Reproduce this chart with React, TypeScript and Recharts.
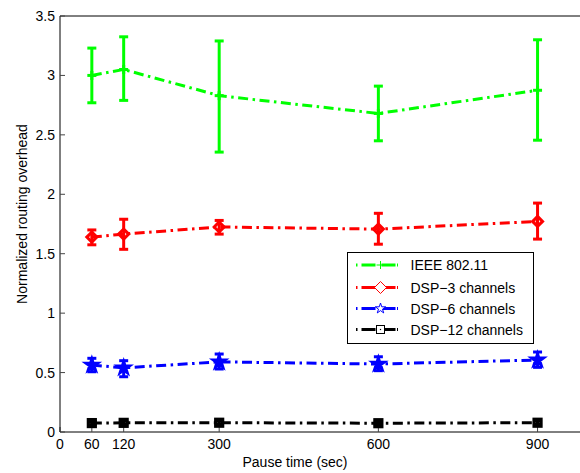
import React from 'react';
import { LineChart, Line, XAxis, YAxis, ErrorBar, Legend } from 'recharts';

const pauseTimes = [60, 120, 300, 600, 900];

const ieeeMean = [3.0, 3.05, 2.83, 2.68, 2.875];
const ieeeLow = [2.77, 2.79, 2.355, 2.45, 2.455];
const ieeeHigh = [3.23, 3.325, 3.29, 2.91, 3.3];

const dsp3Mean = [1.64, 1.665, 1.725, 1.707, 1.772];
const dsp3Low = [1.575, 1.537, 1.665, 1.58, 1.623];
const dsp3High = [1.7, 1.79, 1.78, 1.84, 1.926];

const dsp6Mean = [0.563, 0.54, 0.59, 0.572, 0.606];
const dsp6Low = [0.507, 0.465, 0.53, 0.516, 0.544];
const dsp6High = [0.62, 0.6, 0.656, 0.633, 0.673];

const dsp12Mean = [0.075, 0.077, 0.078, 0.074, 0.078];
const dsp12Low = [0.062, 0.064, 0.065, 0.061, 0.065];
const dsp12High = [0.088, 0.09, 0.091, 0.087, 0.091];

const xTicks = [0, 60, 120, 300, 600, 900];
const yTicks = [0, 0.5, 1, 1.5, 2, 2.5, 3, 3.5];

const seriesNames = ['IEEE 802.11', 'DSP\u22123 channels', 'DSP\u22126 channels', 'DSP\u221212 channels'];
const seriesColors = ['#00ff00', '#ff0000', '#0000ff', '#000000'];

const err = (m: number, lo: number, hi: number) => [m - lo, hi - m];

const data = pauseTimes.map((t, i) => ({
  t,
  g: ieeeMean[i],
  gErr: err(ieeeMean[i], ieeeLow[i], ieeeHigh[i]),
  r: dsp3Mean[i],
  rErr: err(dsp3Mean[i], dsp3Low[i], dsp3High[i]),
  b: dsp6Mean[i],
  bErr: err(dsp6Mean[i], dsp6Low[i], dsp6High[i]),
  k: dsp12Mean[i],
  kErr: err(dsp12Mean[i], dsp12Low[i], dsp12High[i]),
}));

const FONT = '"Liberation Sans", Arial, Helvetica, sans-serif';
const DASH = '10 4.5 2.5 4.5';

const starPoints = (cx: number, cy: number, R: number) => {
  const r = R * 0.382;
  const pts: string[] = [];
  for (let i = 0; i < 10; i++) {
    const rad = i % 2 === 0 ? R : r;
    const a = -Math.PI / 2 + (i * Math.PI) / 5;
    pts.push(`${cx + rad * Math.cos(a)},${cy + rad * Math.sin(a)}`);
  }
  return pts.join(' ');
};

const Marker = ({ kind, cx, cy, color, sw, small }: any) => {
  if (cx == null || cy == null) return <g />;
  if (kind === 0) {
    const s = small ? 4 : 4.5;
    return (
      <g>
        <line x1={cx - s} y1={cy} x2={cx + s} y2={cy} stroke={color} strokeWidth={sw} />
        <line x1={cx} y1={cy - s} x2={cx} y2={cy + s} stroke={color} strokeWidth={sw} />
      </g>
    );
  }
  if (kind === 1) {
    const s = small ? 6 : 5;
    return (
      <polygon
        points={`${cx},${cy - s} ${cx + s},${cy} ${cx},${cy + s} ${cx - s},${cy}`}
        fill={small ? '#fff' : 'none'}
        stroke={color}
        strokeWidth={sw}
      />
    );
  }
  if (kind === 2) {
    const R = small ? 5.5 : 6;
    return <polygon points={starPoints(cx, cy, R)} fill={small ? '#fff' : 'none'} stroke={color} strokeWidth={sw} strokeLinejoin="miter" />;
  }
  const s = small ? 4 : 3.6;
  return (
    <g>
      <rect x={cx - s} y={cy - s} width={2 * s} height={2 * s} fill={small ? '#fff' : 'none'} stroke={color} strokeWidth={sw} />
      {small ? <rect x={cx - 0.6} y={cy - 0.6} width={1.2} height={1.2} fill={color} /> : null}
    </g>
  );
};

const makeDot = (kind: number) => (props: any) => (
  <Marker key={`${kind}-${props.index}`} kind={kind} cx={props.cx} cy={props.cy} color={seriesColors[kind]} sw={3} />
);

const LegendBox = () => {
  const rows = [13, 35.5, 56.5, 77.5];
  return (
    <svg width={188} height={93} style={{ display: 'block' }}>
      <rect x={0.5} y={0.5} width={186} height={91} fill="#fff" stroke="#000" strokeWidth={1} />
      {seriesNames.map((n, i) => (
        <g key={n}>
          <line x1={9} y1={rows[i]} x2={51} y2={rows[i]} stroke={seriesColors[i]} strokeWidth={3} strokeDasharray="1.5 4 14 6 14" />
          <Marker kind={i} cx={33.5} cy={rows[i]} color={seriesColors[i]} sw={1} small />
          <text x={63.5} y={rows[i]} dy="0.36em" fontFamily={FONT} fontSize={14} fill="#000">
            {n}
          </text>
        </g>
      ))}
    </svg>
  );
};

export default function App() {
  return (
    <div style={{ position: 'absolute', left: 0, top: 0, width: 580, height: 473, background: '#fff' }}>
      <LineChart width={580} height={473} data={data} margin={{ top: 0, right: 0, bottom: 0, left: 0 }}>
        <XAxis
          dataKey="t"
          type="number"
          domain={[0, 980]}
          allowDataOverflow
          ticks={xTicks}
          interval={0}
          height={41}
          tickSize={-5}
          tickMargin={12}
          stroke="#000"
          tickLine={{ stroke: '#444' }}
          tick={{ fill: '#000', fontFamily: FONT, fontSize: 14 }}
          label={{
            content: () => (
              <text x={295} y={462} textAnchor="middle" dy="0.36em" fontFamily={FONT} fontSize={14} fill="#000">
                Pause time (sec)
              </text>
            ),
          }}
        />
        <XAxis
          xAxisId="top"
          orientation="top"
          dataKey="t"
          type="number"
          domain={[0, 980]}
          allowDataOverflow
          ticks={xTicks}
          interval={0}
          height={16}
          tickSize={-5}
          stroke="#000"
          tickLine={{ stroke: '#444' }}
          tick={false}
        />
        <YAxis
          type="number"
          domain={[0, 3.5]}
          ticks={yTicks}
          interval={0}
          width={60}
          tickSize={-5}
          tickMargin={10}
          stroke="#000"
          tickLine={{ stroke: '#444' }}
          tick={{ fill: '#000', fontFamily: FONT, fontSize: 14 }}
          label={{
            content: () => (
              <text
                x={22}
                y={214}
                transform="rotate(-90 22 214)"
                textAnchor="middle"
                dy="0.36em"
                fontFamily={FONT}
                fontSize={14}
                fill="#000"
              >
                Normalized routing overhead
              </text>
            ),
          }}
        />
        <Line dataKey="g" stroke={seriesColors[0]} strokeWidth={3} strokeDasharray={DASH} dot={makeDot(0)} activeDot={false} isAnimationActive={false}>
          <ErrorBar dataKey="gErr" width={4.5} strokeWidth={3} stroke={seriesColors[0]} direction="y" />
        </Line>
        <Line dataKey="r" stroke={seriesColors[1]} strokeWidth={3} strokeDasharray={DASH} dot={makeDot(1)} activeDot={false} isAnimationActive={false}>
          <ErrorBar dataKey="rErr" width={4.5} strokeWidth={3} stroke={seriesColors[1]} direction="y" />
        </Line>
        <Line dataKey="b" stroke={seriesColors[2]} strokeWidth={3} strokeDasharray={DASH} dot={makeDot(2)} activeDot={false} isAnimationActive={false}>
          <ErrorBar dataKey="bErr" width={4.5} strokeWidth={3} stroke={seriesColors[2]} direction="y" />
        </Line>
        <Line dataKey="k" stroke={seriesColors[3]} strokeWidth={3} strokeDasharray={DASH} dot={makeDot(3)} activeDot={false} isAnimationActive={false}>
          <ErrorBar dataKey="kErr" width={4.5} strokeWidth={3} stroke={seriesColors[3]} direction="y" />
        </Line>
        <Legend
          layout="vertical"
          align="center"
          verticalAlign="middle"
          wrapperStyle={{ position: 'absolute', left: 347, top: 252, width: 188, height: 93 }}
          content={() => <LegendBox />}
        />
      </LineChart>
    </div>
  );
}
